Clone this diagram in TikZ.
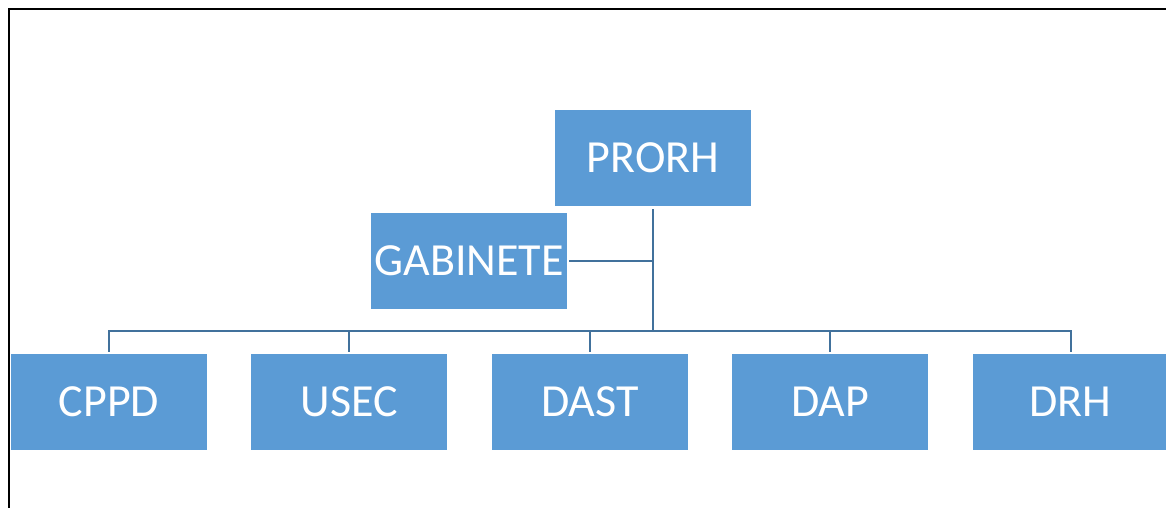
\documentclass[tikz,border=0pt]{standalone}
\usepackage{fontspec}
\setmainfont{Carlito}
\usetikzlibrary{positioning}
\definecolor{boxblue}{RGB}{91,155,213}
\definecolor{lineblue}{RGB}{65,113,156}
\tikzset{
      orgblock/.style={
        fill=boxblue,
        draw=none,
        inner sep=0pt,
        text=white,
        font=\fontsize{46}{54}\selectfont,
        minimum width=196pt,
        minimum height=96pt,
        align=center
      },
      orglink/.style={
        draw=lineblue,
        line width=2pt
      },
    }
\begin{document}
\begin{tikzpicture}[x=1pt,y=-1pt,node distance=0pt and 44pt]
          \useasboundingbox (0,0) rectangle (1166,508);
          \draw[line width=2pt] (9,508) -- (9,9) -- (1166,9);

          \node[orgblock] (prorh) at (653,158) {PRORH};
          \node[orgblock] (gab) at (469,261) {GABINETE};

          \node[orgblock] (cppd) at (109,402) {CPPD};
          \node[orgblock,right=of cppd] (usec) {USEC};
          \node[orgblock,right=of usec] (dast) {DAST};
          \node[orgblock,right=of dast] (dap) {DAP};
          \node[orgblock,right=of dap] (drh) {DRH};

          \coordinate (bus) at (653,331);

          \draw[orglink] ([yshift=-3pt]prorh.south) -- (bus);
          \draw[orglink] ([xshift=2pt]gab.east) -- (gab.east -| bus);
          \draw[orglink] ([yshift=2pt]cppd.north) |- (bus) -| ([yshift=2pt]drh.north);
          \foreach \n in {usec,dast,dap}
            \draw[orglink] ([yshift=2pt]\n.north) -- (\n.north |- bus);
\end{tikzpicture}
\end{document}
